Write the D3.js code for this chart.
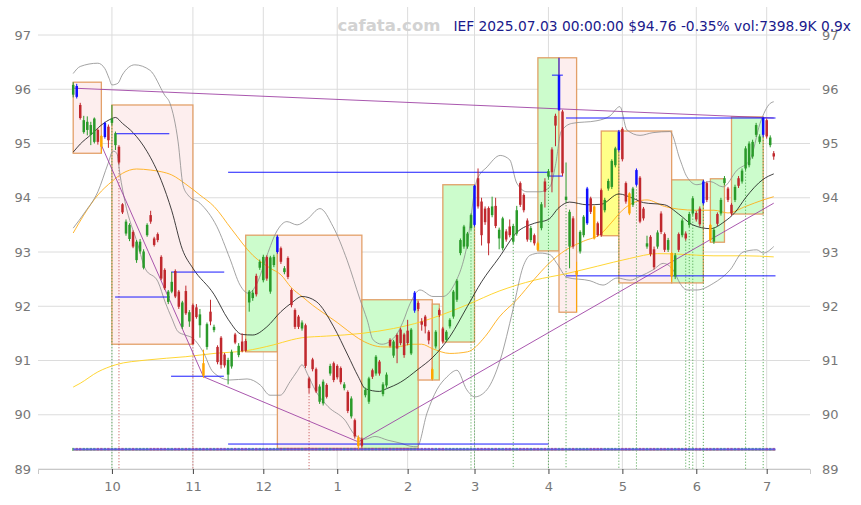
<!DOCTYPE html>
<html><head><meta charset="utf-8">
<script src="https://cdn.jsdelivr.net/npm/d3@7"></script>
<style>body{margin:0;background:#fff}svg{display:block}</style>
</head><body><svg id="c" width="861" height="505"></svg>
<script>
// ---- data ----
const opens=[95.90,96.06,95.71,95.21,95.25,95.16,95.03,95.25,95.14,95.12,95.31,95.38,94.97,94.94,93.88,93.34,93.24,93.37,92.85,93.01,92.71,93.31,93.68,93.25,93.33,92.91,92.67,92.08,92.27,92.65,92.27,91.62,92.28,91.72,92.02,91.98,91.65,90.95,91.25,91.90,91.56,91.25,91.42,91.11,90.74,90.89,91.48,91.10,91.35,91.36,92.07,92.15,92.56,92.71,92.48,92.91,92.27,92.76,93.00,93.07,92.63,92.89,92.30,91.93,91.81,91.59,91.65,90.67,91.02,90.84,90.24,90.21,90.55,90.76,90.95,90.90,90.86,90.49,90.42,89.97,89.90,89.58,89.55,90.36,90.24,90.82,90.76,90.98,90.38,90.54,91.38,91.09,91.47,91.57,91.48,91.55,91.13,91.92,92.06,91.72,91.81,91.53,90.84,91.26,91.93,91.59,91.38,91.63,91.81,92.12,92.98,93.10,93.10,93.44,93.50,94.36,93.93,93.80,93.81,93.68,93.85,93.25,93.07,93.38,93.47,93.19,93.34,94.27,94.05,93.58,93.22,93.31,93.16,93.44,94.30,94.39,94.89,95.51,95.62,95.59,93.96,93.10,93.62,92.58,93.01,93.31,93.53,93.99,93.84,93.53,94.14,93.77,94.17,94.20,94.60,94.88,95.27,94.27,94.08,93.87,94.24,94.37,93.80,93.10,93.28,93.05,93.10,93.71,93.33,93.04,92.98,92.55,93.33,93.31,93.34,93.50,93.71,93.72,93.80,93.90,94.27,93.50,93.19,93.70,93.71,94.27,94.17,93.87,93.96,94.36,94.30,94.54,94.60,94.76,95.16,95.03,95.16,95.43,94.97,94.82];
const highs=[96.13,96.10,95.75,95.51,95.50,95.40,95.48,95.28,95.16,95.40,95.35,95.71,95.22,94.97,93.90,93.60,93.53,93.40,93.22,93.24,93.05,93.53,93.76,93.28,93.36,92.94,92.70,92.30,92.63,92.68,92.30,92.10,92.38,91.93,92.05,92.04,91.95,91.20,91.70,92.12,91.66,91.28,91.45,91.14,91.05,91.20,91.51,91.32,91.50,91.40,92.30,92.30,92.60,92.86,92.95,92.94,92.93,92.95,93.31,93.10,92.74,92.92,92.33,91.96,91.84,91.74,91.68,90.70,91.05,90.87,90.56,90.65,90.58,90.94,90.98,90.93,90.89,90.60,90.45,90.34,89.93,89.62,89.58,90.50,90.70,90.85,91.10,91.01,90.60,90.78,91.41,91.38,91.50,91.60,91.51,91.75,91.60,92.28,92.09,91.78,91.84,91.56,90.87,91.56,91.96,91.62,91.56,91.78,92.30,92.50,93.25,93.50,93.37,93.71,94.24,94.54,94.00,93.84,93.84,94.02,94.00,93.45,93.65,93.42,93.60,93.52,93.85,94.30,94.08,93.62,93.48,93.34,93.19,93.92,94.36,94.53,94.93,95.55,96.58,95.62,94.65,93.78,93.66,92.82,93.40,93.68,94.20,94.02,93.86,93.56,94.17,94.00,94.35,94.71,94.94,95.25,95.30,94.30,94.10,94.20,94.54,94.40,93.83,93.30,93.31,93.10,93.40,93.75,93.36,93.26,93.00,92.98,93.36,93.62,93.38,93.74,94.03,93.76,93.84,94.33,94.30,93.52,93.45,93.73,94.00,94.40,94.20,93.90,94.24,94.40,94.54,94.95,95.04,95.07,95.38,95.17,95.49,95.46,95.15,94.86];
const lows=[95.85,95.83,95.44,95.18,95.15,94.97,95.00,94.98,94.82,95.09,94.92,95.34,94.88,94.62,93.70,93.30,93.20,93.07,92.80,92.97,92.68,93.28,93.52,93.10,93.18,92.48,92.30,92.04,92.24,92.15,91.95,91.58,91.84,91.62,91.30,91.77,91.42,90.68,91.20,91.65,91.52,90.93,90.85,90.87,90.56,90.85,91.30,91.06,91.15,91.16,91.90,92.10,92.18,92.67,92.44,92.47,92.23,92.72,92.97,92.78,92.59,92.50,91.98,91.58,91.58,91.55,90.86,90.40,90.80,90.40,90.20,90.17,90.30,90.72,90.60,90.65,90.56,90.45,90.03,89.93,89.56,89.36,89.40,90.32,90.20,90.66,90.72,90.72,90.34,90.50,91.24,91.05,90.95,91.28,91.05,91.28,91.10,91.88,91.91,91.55,91.50,91.30,90.64,91.22,91.80,91.31,91.34,91.59,91.77,92.08,92.94,93.06,93.06,93.40,93.47,93.80,93.12,93.50,92.94,93.64,93.44,93.05,93.03,93.19,93.27,93.15,93.30,93.83,93.73,93.19,93.18,93.12,93.02,93.40,93.82,94.35,94.10,94.95,95.60,94.40,93.92,92.70,93.06,91.90,92.97,93.27,93.50,93.70,93.23,93.28,93.28,93.73,94.13,94.16,94.56,94.85,94.67,93.89,93.68,93.83,94.21,93.53,93.58,93.06,92.92,92.68,93.06,93.33,93.00,93.00,92.45,92.50,93.00,93.27,93.21,93.46,93.67,93.56,93.47,93.87,93.92,93.18,93.15,93.48,93.67,94.23,93.92,93.67,93.92,94.18,94.26,94.50,94.56,94.72,95.12,94.99,95.12,95.09,94.93,94.70];
const closes=[96.08,95.86,95.47,95.43,95.40,95.34,95.46,95.03,94.94,95.38,95.06,95.46,95.19,94.65,93.73,93.56,93.50,93.10,93.19,93.19,93.01,93.50,93.56,93.13,93.22,92.51,92.33,92.27,92.45,92.18,91.99,92.07,91.87,91.89,91.30,91.80,91.85,90.72,91.67,91.72,91.62,90.97,90.92,90.91,91.01,91.16,91.33,91.27,91.17,91.18,92.27,92.25,92.22,92.82,92.91,92.51,92.90,92.91,93.28,92.82,92.70,92.54,92.02,91.62,91.62,91.70,90.90,90.49,90.84,90.43,90.52,90.61,90.33,90.90,90.64,90.69,90.60,90.56,90.07,90.30,89.60,89.42,89.43,90.46,90.67,90.70,91.07,90.76,90.56,90.74,91.27,91.35,91.22,91.32,91.10,91.32,91.57,92.25,91.95,91.66,91.63,91.37,90.66,91.53,91.84,91.35,91.53,91.75,92.27,92.47,93.22,93.47,93.34,93.68,94.22,93.84,93.31,93.55,93.16,93.84,93.48,93.41,93.62,93.23,93.31,93.48,93.77,93.87,93.77,93.23,93.44,93.16,93.04,93.88,94.11,94.49,94.47,95.33,96.26,94.45,94.02,93.74,93.10,92.65,93.37,93.65,94.17,93.74,93.25,93.31,93.31,93.96,94.31,94.68,94.91,95.22,94.71,93.93,93.71,94.17,94.51,93.56,93.62,93.16,92.96,92.72,93.36,93.37,93.04,93.22,92.55,92.94,93.04,93.58,93.25,93.70,93.99,93.60,93.51,94.30,93.96,93.22,93.41,93.52,93.96,94.36,93.96,93.71,94.20,94.22,94.50,94.91,95.00,95.03,95.34,95.13,95.47,95.13,95.11,94.76];
const hiMarks=[1,9,58,97,114,138,146,155,160,179,196];
const loMarks=[8,37,81,102,132,143,148,158,170,181];
const greenSig=[11,113,114,125,135,140,155,160,174,175,176,179,191,196];
const redSig=[13,34,67];

const monthTicks=[11,34,54,75,95,114,135,156,177,197];
const monthLabels=["10","11","12","1","2","3","4","5","6","7"];
const priceTicks=[89,90,91,92,93,94,95,96,97];

const ma20=[[0,94.84],[2,94.99],[5,95.16],[8,95.34],[11,95.46],[12,95.48],[14,95.37],[17,95.20],[21,94.85],[25,94.32],[28,93.76],[31,93.05],[34,92.70],[40,92.22],[44,91.76],[48,91.48],[51,91.47],[55,91.62],[59,91.90],[62,92.06],[65,92.18],[69,92.09],[74,91.62],[78,91.10],[81,90.70],[83,90.48],[87,90.43],[89,90.48],[93,90.60],[98,90.84],[102,91.05],[107,91.44],[112,92.00],[116,92.45],[121,92.90],[126,93.36],[131,93.53],[135,93.60],[138,93.82],[141,93.92],[146,93.87],[150,93.88],[155,94.07],[159,93.99],[162,93.91],[168,93.87],[172,93.70],[176,93.50],[181,93.43],[185,93.56],[188,93.73],[191,94.00],[196,94.34],[199,94.44]];
const ma50=[[0,93.35],[3,93.68],[7,94.05],[11,94.30],[14,94.45],[18,94.53],[22,94.51],[25,94.48],[28,94.42],[32,94.25],[36,94.05],[40,93.84],[45,93.42],[51,92.94],[56,92.70],[59,92.58],[62,92.34],[65,92.18],[68,92.02],[71,91.88],[75,91.70],[78,91.55],[82,91.37],[88,91.25],[92,91.25],[96,91.30],[99,91.30],[102,91.22],[107,91.13],[112,91.16],[117,91.44],[121,91.80],[126,92.12],[131,92.50],[135,92.78],[140,93.04],[145,93.20],[150,93.34],[153,93.55],[156,93.77],[160,93.93],[163,93.96],[168,93.84],[172,93.79],[177,93.77],[182,93.77],[186,93.72],[191,93.84],[196,93.96],[199,94.02]];
const ma200=[[0,90.51],[2,90.58],[7,90.79],[12,90.92],[21,91.01],[32,91.07],[40,91.13],[49,91.18],[57,91.29],[62,91.38],[65,91.42],[72,91.45],[82,91.50],[91,91.59],[97,91.68],[102,91.78],[112,92.03],[121,92.28],[131,92.48],[140,92.60],[149,92.74],[158,92.88],[166,92.97],[172,92.96],[182,92.93],[191,92.93],[199,92.91]];
const bbUpper=[[0,96.29],[2,96.42],[7,96.48],[9,96.38],[10.2,96.20],[11,96.08],[12.7,96.11],[13.9,96.26],[17.5,96.45],[21.8,96.35],[26,95.89],[27.5,95.74],[29.8,95.03],[31.2,94.23],[32.6,94.05],[36,93.90],[40.8,93.47],[44.5,92.88],[47.4,92.39],[49.7,92.24],[52.2,92.42],[55,92.93],[57.9,93.39],[60.7,93.56],[63.6,93.50],[66.4,93.60],[70.1,93.80],[73.8,93.47],[77.8,92.85],[81.5,92.12],[83.5,91.75],[85.2,91.38],[87.7,91.30],[91.4,91.44],[93.6,91.70],[95.7,92.05],[98.5,92.30],[102.2,92.18],[105,92.18],[107.9,92.36],[111.8,93.10],[114.7,94.33],[117.6,94.57],[121.3,94.78],[124,94.70],[126,94.27],[128.9,94.11],[132.6,94.11],[135.4,94.20],[137,94.60],[138.6,95.22],[141.6,95.37],[148.8,95.42],[152.5,95.51],[155.3,95.68],[157.3,95.25],[161,95.15],[164.7,95.20],[169.5,95.22],[172.4,94.70],[174.3,94.39],[177.2,94.24],[180.9,94.30],[184.6,94.20],[188.6,94.51],[192.3,94.70],[195.1,95.37],[198,95.74],[199,95.77]];
const bbLower=[[0,93.44],[3.4,93.74],[7,94.11],[9.9,94.63],[11.3,94.86],[12.4,94.82],[13.3,94.42],[14.7,93.93],[18.4,93.13],[20.4,92.70],[24.1,92.45],[26.1,92.08],[28,91.78],[29.8,91.53],[31.8,91.47],[34,91.41],[36.9,91.16],[39.7,90.79],[44.5,90.64],[49.4,90.66],[53.1,90.55],[55.9,90.36],[58.8,90.36],[61.6,90.61],[63.6,90.80],[65,90.92],[66.7,90.73],[68.7,90.46],[72.4,90.15],[77.2,89.90],[80,89.63],[82.9,89.55],[85.7,89.60],[89.4,89.53],[93.4,89.47],[95.7,89.42],[97.7,89.41],[100.5,90.03],[103.3,90.46],[106.2,90.70],[109,90.82],[111.8,90.46],[114.1,90.33],[117.5,90.46],[121.3,91.01],[124.9,91.93],[127.8,92.73],[129.8,92.94],[132.6,92.98],[135.4,92.95],[137.4,92.79],[140.3,92.53],[146.8,92.47],[150.5,92.39],[154.5,92.52],[158.2,92.48],[161,92.55],[164.7,92.67],[167.6,92.79],[170.4,92.67],[172.4,92.42],[174.3,92.30],[177.2,92.30],[181.8,92.42],[186.6,92.67],[190.3,93.00],[194.2,93.04],[196,92.98],[199,93.10]];

// boxes: start index, end index, low, high, kind
const boxStart=[0,11,49,58,82,98,102,105,132,138,150,155,170,181,187];
const boxEnd=[8,34,58,82,98,102,104,114,138,143,155,170,179,185,196];
const boxLow=[94.82,91.30,91.16,89.38,89.38,90.64,90.64,91.34,93.02,91.89,93.30,92.43,92.43,93.18,93.70];
const boxHigh=[96.13,95.71,93.31,93.31,92.12,92.12,92.04,94.24,96.58,96.58,95.23,95.23,94.33,94.35,95.49];
const boxKind=["down","down","up","down","up","down","up","up","up","down","flat","down","up","up","up"];

// support / resistance levels
const levelStart=[11.9,11.9,27.8,27.8,44,44,140,140,136,135.2];
const levelEnd=[27.3,27.5,42.9,42.8,135,135,199.5,199.5,139.1,139.1];
const levelValue=[95.18,92.17,92.63,90.71,94.47,89.46,95.47,92.56,96.26,94.40];

// trend lines
const trendFrom=[[0,96.02],[8,94.97],[37,90.70],[81,89.50]];
const trendTo=[[199,95.47],[37,90.70],[81,89.50],[199,93.90]];

// ---- drawing ----
const svg=d3.select("#c");
const W=861,H=505;
const x=d3.scaleLinear().domain([-10,209.3]).range([38,810]);
const y=d3.scaleLinear().domain([89,97]).range([469,35]);
const plotTop=7, plotBottom=469;
const FONT="DejaVu Sans, sans-serif";

svg.append("rect").attr("width",W).attr("height",H).attr("fill","#fff");

// grid
const g=svg.append("g");
g.selectAll("line.h").data(priceTicks).join("line")
 .attr("x1",38).attr("x2",810).attr("y1",d=>y(d)).attr("y2",d=>y(d))
 .attr("stroke","#dcdcdc").attr("stroke-width",1);
g.selectAll("line.v").data(monthTicks).join("line")
 .attr("x1",d=>x(d)).attr("x2",d=>x(d)).attr("y1",plotTop).attr("y2",plotBottom)
 .attr("stroke","#dcdcdc").attr("stroke-width",1);

// bottom axis
const xAxis=d3.axisBottom(x).tickValues(monthTicks).tickFormat((d,i)=>monthLabels[i]).tickSize(5).tickPadding(8);
const ax=svg.append("g").attr("transform",`translate(0,${plotBottom})`).call(xAxis);
ax.select(".domain").attr("stroke","#c8c8c8");
ax.selectAll(".tick line").attr("stroke","#444");
ax.selectAll("text").attr("fill","#777").attr("font-size",13).attr("font-family",FONT);

const yl=d3.axisLeft(y).tickValues(priceTicks).tickSize(0).tickPadding(0);
const ayl=svg.append("g").attr("transform","translate(31,0)").call(yl);
ayl.select(".domain").remove();
ayl.selectAll("text").attr("fill","#777").attr("font-size",13).attr("font-family",FONT);
const yr=d3.axisRight(y).tickValues(priceTicks).tickSize(0).tickPadding(0);
const ayr=svg.append("g").attr("transform","translate(822,0)").call(yr);
ayr.select(".domain").remove();
ayr.selectAll("text").attr("fill","#777").attr("font-size",13).attr("font-family",FONT);

// boxes
const fills={up:"#ccfccc",down:"#fdeeee",flat:"#ffff88"};
svg.append("g").selectAll("rect").data(boxStart.map((s,i)=>i)).join("rect")
 .attr("x",i=>x(boxStart[i])).attr("width",i=>x(boxEnd[i])-x(boxStart[i]))
 .attr("y",i=>y(boxHigh[i])).attr("height",i=>y(boxLow[i])-y(boxHigh[i]))
 .attr("fill",i=>fills[boxKind[i]]).attr("stroke","#e0975a").attr("stroke-width",1.3).attr("stroke-opacity",0.9);

// signal dotted lines
const sig=svg.append("g");
sig.selectAll("line.g").data(greenSig).join("line")
 .attr("x1",d=>x(d)).attr("x2",d=>x(d)).attr("y1",d=>y(lows[d])).attr("y2",plotBottom)
 .attr("stroke","#3a9a3a").attr("stroke-width",0.8).attr("stroke-dasharray","1.2,1.8");
sig.selectAll("line.r").data(redSig).join("line")
 .attr("x1",d=>x(d)).attr("x2",d=>x(d)).attr("y1",d=>y(lows[d])).attr("y2",plotBottom)
 .attr("stroke","#c04040").attr("stroke-width",0.8).attr("stroke-dasharray","1.2,1.8");

// indicator lines
const line=d3.line().x(d=>x(d[0])).y(d=>y(d[1])).curve(d3.curveMonotoneX);
function drawLine(data,color,w,op){
 svg.append("path").attr("d",line(data)).attr("fill","none").attr("stroke",color).attr("stroke-width",w).attr("stroke-opacity",op);
}
drawLine(ma200,"#ffd21f",1,0.9);
drawLine(ma50,"#ffae1a",1,0.9);
drawLine(bbUpper,"#8c8c8c",0.8,1);
drawLine(bbLower,"#8c8c8c",0.8,1);
drawLine(ma20,"#111",0.8,1);

// trend lines
svg.append("g").selectAll("line").data(trendFrom.map((d,i)=>i)).join("line")
 .attr("x1",i=>x(trendFrom[i][0])).attr("y1",i=>y(trendFrom[i][1]))
 .attr("x2",i=>x(trendTo[i][0])).attr("y2",i=>y(trendTo[i][1]))
 .attr("stroke","#9a3aa0").attr("stroke-width",1).attr("stroke-opacity",0.85);

// levels
svg.append("g").selectAll("line").data(levelValue.map((d,i)=>i)).join("line")
 .attr("x1",i=>x(levelStart[i])).attr("x2",i=>x(levelEnd[i]))
 .attr("y1",i=>y(levelValue[i])).attr("y2",i=>y(levelValue[i]))
 .attr("stroke","#1a1aff").attr("stroke-width",1);

// volume strip at bottom
const idx=d3.range(opens.length);
function colorOf(i){
 if(hiMarks.includes(i)) return "#1010ff";
 if(loMarks.includes(i)) return "#ffa500";
 return closes[i]>=opens[i]?"#2a9a2a":"#c0282d";
}
const vy=y(89.36);
svg.append("g").selectAll("rect").data(idx).join("rect")
 .attr("x",i=>x(i)-1.2).attr("width",2.4).attr("y",vy-1.6).attr("height",3)
 .attr("fill",i=>closes[i]>=opens[i]?"#5aaa5a":"#c85a5a").attr("opacity",0.8);
svg.append("line").attr("x1",x(0)).attr("x2",x(199.5)).attr("y1",vy+0.6).attr("y2",vy+0.6)
 .attr("stroke","#9a8ab0").attr("stroke-width",1.5);
svg.append("line").attr("x1",x(0)).attr("x2",x(199.5)).attr("y1",vy-0.4).attr("y2",vy-0.4)
 .attr("stroke","#3030ff").attr("stroke-width",1);

// candles
const cg=svg.append("g");
cg.selectAll("line").data(idx).join("line")
 .attr("x1",i=>x(i)).attr("x2",i=>x(i)).attr("y1",i=>y(highs[i])).attr("y2",i=>y(lows[i]))
 .attr("stroke",colorOf).attr("stroke-width",1);
cg.selectAll("rect").data(idx).join("rect")
 .attr("x",i=>x(i)-1.25).attr("width",2.5)
 .attr("y",i=>y(Math.max(opens[i],closes[i])))
 .attr("height",i=>Math.max(0.8,Math.abs(y(opens[i])-y(closes[i]))))
 .attr("fill",colorOf);

// texts
svg.append("text").attr("x",389).attr("y",31).attr("text-anchor","middle")
 .attr("font-family",FONT).attr("font-weight","bold").attr("font-size",16.5).attr("fill","#d2d2d2").text("cafata.com");
svg.append("text").attr("x",851).attr("y",31).attr("text-anchor","end")
 .attr("font-family",FONT).attr("font-size",13.8).attr("fill","#1a1a8c")
 .text("IEF 2025.07.03 00:00:00 $94.76 -0.35% vol:7398.9K 0.9x");
</script></body></html>
